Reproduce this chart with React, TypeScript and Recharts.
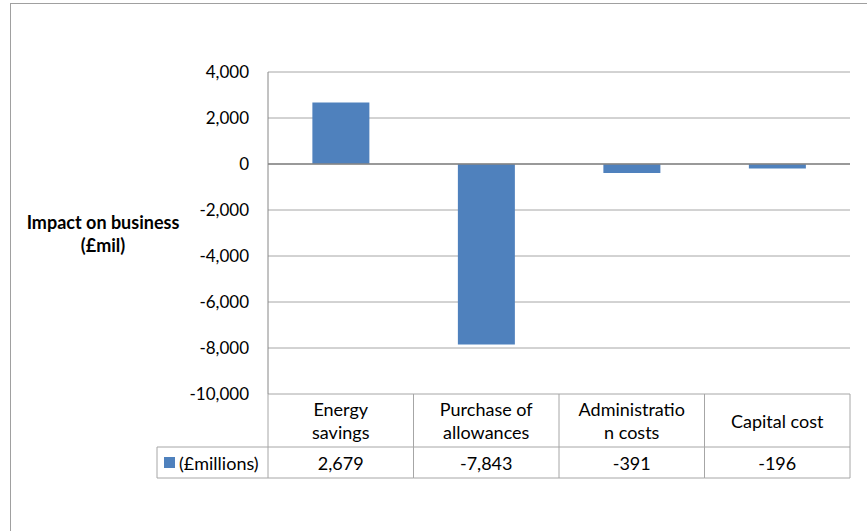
import React from 'react';
import { BarChart, Bar, XAxis, YAxis, CartesianGrid, ReferenceLine } from 'recharts';

const categories = ['Energy savings', 'Purchase of allowances', 'Administration costs', 'Capital cost'];
const categoryLabelLines = [['Energy', 'savings'], ['Purchase of', 'allowances'], ['Administratio', 'n costs'], ['Capital cost']];
const impactValues = [2679, -7843, -391, -196];
const yTicks = [4000, 2000, 0, -2000, -4000, -6000, -8000, -10000];
const seriesName = '(£millions)';
const yAxisTitle = ['Impact on business', '(£mil)'];

const data = categories.map((c, i) => ({ category: c, value: impactValues[i] }));

const W = 867;
const H = 531;
const MARGIN = { top: 72, right: 17, bottom: 53, left: 0 };
const Y_AXIS_W = 268;
const BAND = (W - Y_AXIS_W - MARGIN.right - MARGIN.left) / categories.length;
const FONT = 'Lato, "Open Sans", sans-serif';
const BLUE = '#4f81bd';
const GRID = '#a6a6a6';
const AXIS = '#868686';
const TEXT = '#000';
const HEADER_H = 53;
const ROW_H = 31;
const LEGEND_CELL_W = 111;
const TABLE_FS = 18;

const fmt = (v: number) => v.toLocaleString('en-US');

function TableTick(props: any) {
  const { x, y, payload } = props;
  const i = payload.index;
  const left = x - BAND / 2;
  const right = x + BAND / 2;
  const lines = categoryLabelLines[i];
  const headerMid = y + HEADER_H / 2;
  const lh = 23;
  const startY = headerMid - ((lines.length - 1) * lh) / 2;
  const rowTop = y + HEADER_H;
  const rowBottom = rowTop + ROW_H;
  const isLast = i === categories.length - 1;
  return (
    <g>
      <line x1={left} y1={y} x2={left} y2={rowBottom} stroke={GRID} strokeWidth={1} />
      {isLast && <line x1={right} y1={y} x2={right} y2={rowBottom} stroke={GRID} strokeWidth={1} />}
      <line x1={left} y1={rowTop} x2={right} y2={rowTop} stroke={GRID} strokeWidth={1} />
      <line x1={left} y1={rowBottom} x2={right} y2={rowBottom} stroke={GRID} strokeWidth={1} />
      {lines.map((l, k) => (
        <text key={k} x={x} y={startY + k * lh} textAnchor="middle" dominantBaseline="central" fontFamily={FONT} fontSize={TABLE_FS} fill={TEXT}>
          {l}
        </text>
      ))}
      <text x={x} y={rowTop + ROW_H / 2} textAnchor="middle" dominantBaseline="central" fontFamily={FONT} fontSize={TABLE_FS} fill={TEXT}>
        {fmt(impactValues[i])}
      </text>
      {i === 0 && (
        <g>
          <line x1={left - LEGEND_CELL_W} y1={rowTop} x2={left} y2={rowTop} stroke={GRID} strokeWidth={1} />
          <line x1={left - LEGEND_CELL_W} y1={rowBottom} x2={left} y2={rowBottom} stroke={GRID} strokeWidth={1} />
          <line x1={left - LEGEND_CELL_W} y1={rowTop} x2={left - LEGEND_CELL_W} y2={rowBottom} stroke={GRID} strokeWidth={1} />
          <rect x={left - LEGEND_CELL_W + 7} y={rowTop + 10} width={11} height={11} fill={BLUE} />
          <text x={left - LEGEND_CELL_W + 22} y={rowTop + ROW_H / 2} dominantBaseline="central" fontFamily={FONT} fontSize={TABLE_FS} fill={TEXT}>
            {seriesName}
          </text>
        </g>
      )}
    </g>
  );
}

function YTitle(props: any) {
  const cx = 103;
  const cy = 233;
  return (
    <text x={cx} y={cy} textAnchor="middle" fontFamily={FONT} fontSize={18} fontWeight="bold" fill={TEXT}>
      <tspan x={cx} dy={-11.5} dominantBaseline="central">{yAxisTitle[0]}</tspan>
      <tspan x={cx} dy={23} dominantBaseline="central">{yAxisTitle[1]}</tspan>
    </text>
  );
}

export default function App() {
  return (
    <div style={{ position: 'absolute', left: 0, top: 0, width: W, height: H, background: '#fff' }}>
      <div
        style={{
          position: 'absolute',
          left: 10,
          top: 3,
          width: W - 10,
          height: H - 3,
          boxSizing: 'border-box',
          borderLeft: '1px solid #a0a0a0',
          borderTop: '1px solid #a0a0a0',
        }}
      />
      <div style={{ position: 'absolute', left: 0, top: 0 }}>
        <BarChart width={W} height={H} data={data} margin={MARGIN} barCategoryGap="30.5%">
          <CartesianGrid vertical={false} stroke={GRID} strokeWidth={1} />
          <XAxis
            dataKey="category"
            axisLine={false}
            tickLine={false}
            tickSize={0}
            tickMargin={0}
            height={84}
            interval={0}
            tick={<TableTick />}
          />
          <YAxis
            width={Y_AXIS_W}
            domain={[-10000, 4000]}
            ticks={yTicks}
            tickFormatter={fmt}
            axisLine={{ stroke: AXIS, strokeWidth: 1 }}
            tickLine={false}
            tickSize={0}
            tickMargin={19}
            tick={{ fontFamily: FONT, fontSize: 17, fill: TEXT }}
            label={<YTitle />}
            allowDataOverflow
          />
          <Bar dataKey="value" fill={BLUE} isAnimationActive={false} />
          <ReferenceLine y={0} stroke={AXIS} strokeWidth={1.5} />
        </BarChart>
      </div>
    </div>
  );
}
